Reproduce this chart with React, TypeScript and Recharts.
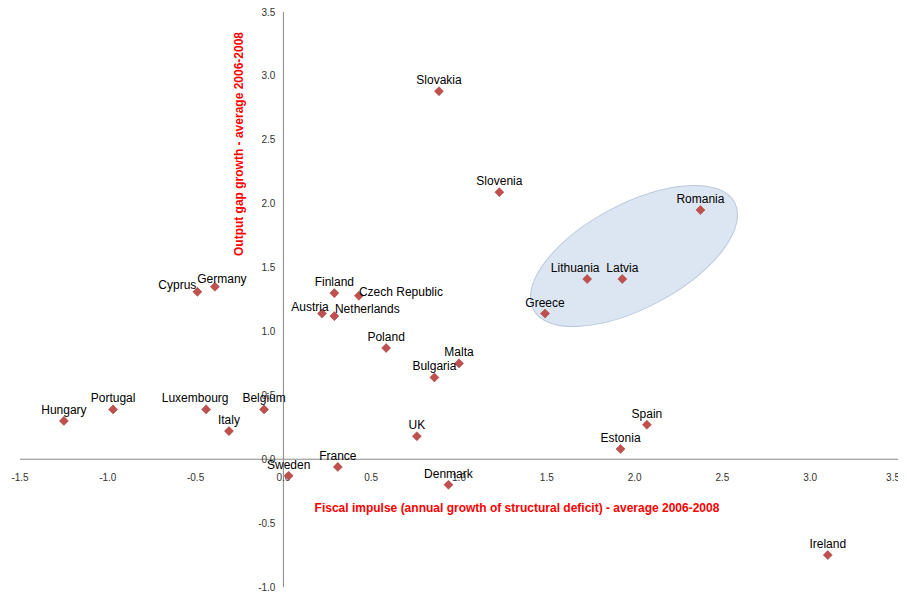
import React from 'react';
import { ScatterChart, Scatter, XAxis, YAxis, ReferenceLine, ReferenceDot, LabelList, Customized } from 'recharts';

const countries = ['Slovakia','Slovenia','Romania','Lithuania','Latvia','Greece','Cyprus','Germany','Finland','Czech Republic','Austria','Netherlands','Poland','Malta','Bulgaria','Hungary','Portugal','Luxembourg','Belgium','Italy','UK','Spain','Estonia','Sweden','France','Denmark','Ireland'];
const fiscalImpulse = [0.886,1.23,2.375,1.73,1.93,1.49,-0.49,-0.39,0.29,0.43,0.22,0.29,0.585,1.0,0.86,-1.25,-0.97,-0.44,-0.11,-0.31,0.76,2.07,1.92,0.03,0.31,0.94,3.10];
const outputGap = [2.88,2.09,1.95,1.41,1.41,1.14,1.31,1.35,1.30,1.28,1.14,1.12,0.87,0.75,0.64,0.30,0.39,0.39,0.39,0.22,0.18,0.27,0.08,-0.13,-0.06,-0.20,-0.75];
const xTicks = [-1.5,-1.0,-0.5,0.0,0.5,1.0,1.5,2.0,2.5,3.0,3.5];
const yTicks = [-1.0,-0.5,0.0,0.5,1.0,1.5,2.0,2.5,3.0,3.5];

const labelOffsets: Record<string, [number, number]> = {
  Lithuania: [-12, -7], Cyprus: [-20, -3], Germany: [7, -4], 'Czech Republic': [42, -0],
  Austria: [-12, -3], Netherlands: [33, -3], Luxembourg: [-11, -7],
};

const data = countries.map((name, i) => ({ name, x: fiscalImpulse[i], y: outputGap[i] }));

const Diamond = (p: any) => (
  <rect x={p.cx - 3.2} y={p.cy - 3.2} width={6.4} height={6.4} fill="#c0504d" stroke="#a8413e" strokeWidth={0.5}
    transform={`rotate(45 ${p.cx} ${p.cy})`} />
);

const PointLabel = (p: any) => {
  const name = p.value;
  const [dx, dy] = labelOffsets[name] || [0, -7];
  return (
    <text x={p.x + p.width / 2 + dx} y={p.y + p.height / 2 + dy} textAnchor="middle" fontSize={12}
      fontFamily="Liberation Sans, Arial" fill="#000">{name}</text>
  );
};

const XTickLabel = (p: any) => {
  const vb = p.viewBox || {};
  const cx = vb.x + (vb.width || 0) / 2;
  return (
    <text x={cx} y={vb.y + 22} textAnchor={p.last ? 'end' : 'middle'} dx={p.last ? 2 : 0}
      fontSize={10} fill="#333">{p.value}</text>
  );
};

const Ellipse = () => (
  <ellipse cx={634} cy={248} rx={114} ry={52} transform="rotate(-28 634 248)"
    fill="#dce6f2" stroke="#b9c9dd" strokeWidth={1} />
);

export default function App() {
  return (
    <div style={{ width: 906, height: 594, marginLeft: -8, fontFamily: 'Liberation Sans, Arial' }}>
      <ScatterChart width={906} height={586} margin={{ top: 4, left: 20, right: 8, bottom: 7 }}>
        <XAxis type="number" dataKey="x" domain={[-1.5, 3.5]} ticks={xTicks} hide />
        <YAxis type="number" dataKey="y" domain={[-1.0, 3.5]} ticks={yTicks} hide />
        <Customized component={Ellipse} />
        <ReferenceLine x={0} stroke="#888" strokeWidth={1} />
        <ReferenceLine y={0} stroke="#888" strokeWidth={1} />
        {xTicks.map((t, i) => (
          <ReferenceDot key={'x' + t} x={t} y={0} r={0} stroke="none"
            label={<XTickLabel value={t.toFixed(1)} last={i === xTicks.length - 1} />} />
        ))}
        {yTicks.map(t => (
          <ReferenceDot key={'y' + t} x={0} y={t} r={0} stroke="none"
            label={{ value: t.toFixed(1), position: 'left', offset: 8, fontSize: 10, fill: '#333' }} />
        ))}
        <Scatter data={data} shape={Diamond} isAnimationActive={false}>
          <LabelList dataKey="name" content={PointLabel} />
        </Scatter>
        <text x={517} y={504} textAnchor="middle" fontSize={12} fontWeight="bold" fill="#ff0000"
          fontFamily="Liberation Sans Narrow, Liberation Sans">Fiscal impulse (annual growth of structural deficit) - average 2006-2008</text>
        <text x={243} y={136} textAnchor="middle" fontSize={12} fontWeight="bold" fill="#ff0000"
          fontFamily="Liberation Sans Narrow, Liberation Sans" transform="rotate(-90 243 136)">Output gap growth - average 2006-2008</text>
      </ScatterChart>
    </div>
  );
}
